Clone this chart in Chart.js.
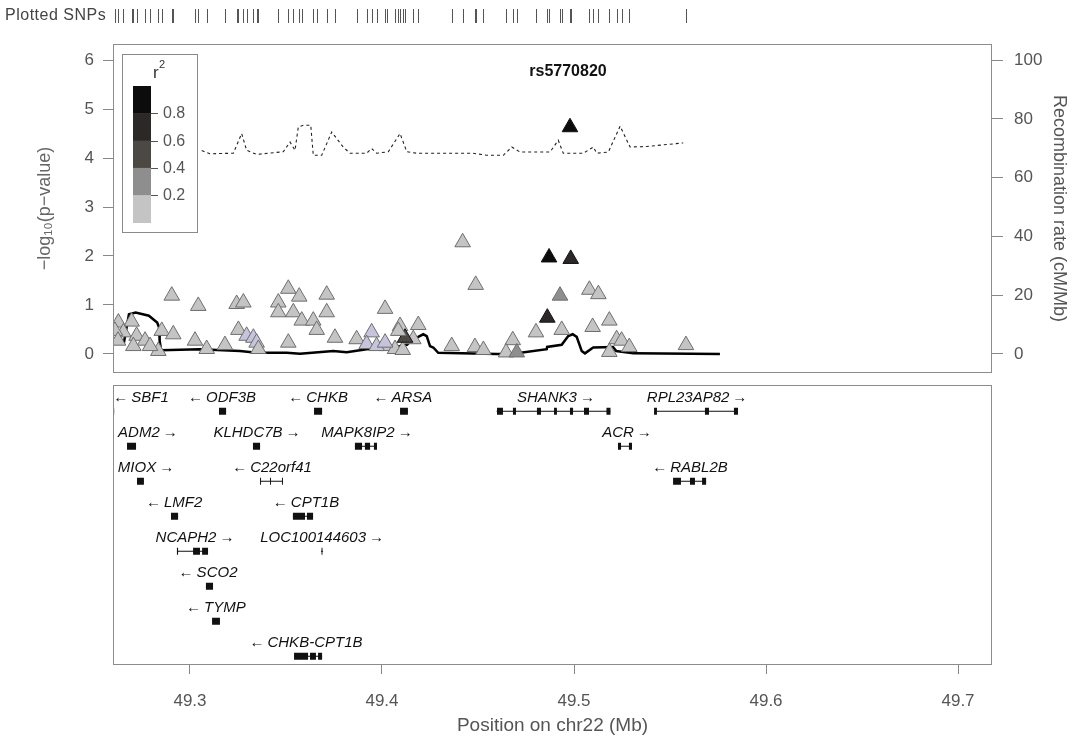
<!DOCTYPE html>
<html><head><meta charset="utf-8">
<script src="https://cdn.jsdelivr.net/npm/chart.js@4/dist/chart.umd.min.js"></script>
<style>
html,body{margin:0;padding:0;background:#fff;}
#wrap{position:relative;width:1072px;height:740px;overflow:hidden;}
#top{position:absolute;left:0;top:0;}
#bot{position:absolute;left:0;top:380px;}
</style></head><body>
<div id="wrap"><canvas id="top" width="1072" height="383"></canvas><canvas id="bot" width="1072" height="360"></canvas></div>
<script>
// ---------- data ----------
const leadSnp = 'rs5770820';
const snpPos = [49.4979,49.4420,49.4870,49.4983,49.4488,49.4927,49.5080,49.5127,49.4861,49.4802,
  49.4936,49.5097,49.5184,49.5222,49.5248,49.5288,49.5184,49.5583,49.4016,49.4094,
  49.4189,49.4024,49.4068,49.4108,49.4163,49.4120,49.4363,49.4484,49.4528,49.4681,
  49.4646,49.4702,49.2905,49.3043,49.3243,49.3278,49.3460,49.3512,49.3569,49.3712,
  49.3712,49.3460,49.3538,49.3582,49.3642,49.3660,49.3755,49.2696,49.2627,49.2853,
  49.2913,49.2653,49.2722,49.2766,49.2705,49.2835,49.3026,49.3087,49.3182,49.3252,
  49.3295,49.3330,49.3347,49.3356,49.3512,49.3868,49.3946,49.3920,49.3972,49.4016,
  49.4085,49.2609,49.2625,49.2792];
const snpLogP = [4.63,2.28,1.97,1.94,1.41,1.19,1.31,1.22,0.74,0.44,
  0.49,0.55,0.68,0.30,0.27,0.14,0.04,0.18,0.92,0.57,
  0.59,0.16,0.10,0.08,0.30,0.33,0.16,0.14,0.08,0.28,
  0.03,0.03,1.19,0.98,1.02,1.05,1.05,1.33,1.17,1.21,
  0.85,0.85,0.85,0.68,0.68,0.49,0.33,0.66,0.64,0.47,
  0.40,0.44,0.37,0.27,0.16,0.06,0.27,0.10,0.18,0.49,
  0.37,0.33,0.23,0.10,0.23,0.30,0.44,0.20,0.16,0.23,
  0.47,0.47,0.27,0.16];
const snpR2 = [1.0,0.1,0.85,0.7,0.1,0.3,0.1,0.1,0.7,0.05,
  0.1,0.1,0.1,0.1,0.1,0.1,0.1,0.05,0.1,0.1,
  0.1,0.1,0.1,0.1,0.1,0.45,0.1,0.1,0.1,0.1,
  0.1,0.3,0.1,0.1,0.1,0.1,0.1,0.1,0.1,0.1,
  0.1,0.1,0.1,0.1,0.1,0.1,0.1,0.1,0.1,0.1,
  0.1,0.1,0.1,0.1,0.1,0.1,0.1,0.1,0.1,0.1,
  null,null,null,0.1,0.1,0.1,null,null,null,null,
  0.1,0.1,0.1,0.1];

const recombPos = [49.2599,49.2656,49.2682,49.2717,49.2786,49.2829,49.2839,49.2842,49.2850,49.3052,
  49.3260,49.3347,49.3504,49.3573,49.3746,49.3816,49.3920,49.4094,49.4130,49.4161,
  49.4181,49.4215,49.4233,49.4250,49.4267,49.4293,49.4597,49.4684,49.4858,49.4860,
  49.4936,49.4970,49.4993,49.5014,49.5040,49.5057,49.5100,49.5203,49.5220,49.5309,49.5760];
const recombRate = [3.9,3.9,13.5,14.1,13.0,10.7,9.0,4.4,1.3,1.6,
  1.0,0.4,0.4,0.1,1.0,0.6,1.6,2.7,3.1,5.1,
  5.6,6.7,6.1,2.7,2.2,0.4,0.0,0.1,1.6,2.4,
  3.1,6.1,6.7,5.8,1.0,0.2,2.2,2.4,1.0,0.2,0.0];

const recomb2Pos = [49.3061,49.3104,49.3226,49.3269,49.3295,49.3347,49.3486,49.3521,49.3547,49.3564,
  49.3590,49.3629,49.3642,49.3686,49.3738,49.3798,49.3833,49.3920,49.3946,49.3972,
  49.4033,49.4094,49.4129,49.4181,49.4337,49.4474,49.4545,49.4632,49.4676,49.4719,
  49.4875,49.4918,49.4944,49.5048,49.5101,49.5118,49.5179,49.5240,49.5292,49.5379,49.5569];
const recomb2Rate = [69.2,68.1,68.3,75.0,69.3,67.9,68.8,72.1,69.3,77.2,
  77.8,77.8,67.6,67.6,75.5,70.4,68.3,68.3,69.9,68.3,
  68.8,75.0,68.8,68.3,68.3,68.3,67.6,67.6,70.4,68.7,
  68.7,72.7,68.3,68.3,70.4,68.3,68.7,77.5,70.4,70.6,71.8];

const r2Breaks = [0.2,0.4,0.6,0.8];
const r2Colors = ['#c4c4c4','#8e8e8e','#4c4844','#2c2828','#0c0c0c'];
const naColor = '#c6c4dc';
const xTicks = [49.3,49.4,49.5,49.6,49.7];
const pTicks = [0,1,2,3,4,5,6];
const recombTicks = [0,20,40,60,80,100];

const geneNames  = ['SBF1','ODF3B','CHKB','ARSA','SHANK3','RPL23AP82','ADM2','KLHDC7B','MAPK8IP2','ACR',
  'MIOX','C22orf41','RABL2B','LMF2','CPT1B','NCAPH2','LOC100144603','SCO2','TYMP','CHKB-CPT1B'];
const geneStrand = ['-','-','-','-','+','+','+','+','+','+','+','-','-','-','-','+','+','-','-','-'];
const geneRow    = [0,0,0,0,0,0,1,1,1,1,2,2,2,3,3,4,4,5,6,7];
const geneStart  = [49.2500,49.3151,49.3646,49.4094,49.4597,49.5422,49.2672,49.3328,49.3859,49.5229,
  49.2724,49.3365,49.5526,49.2901,49.3536,49.2932,49.3682,49.3083,49.3115,49.3542];
const geneEnd    = [49.2605,49.3188,49.3688,49.4135,49.5190,49.5847,49.2719,49.3365,49.3974,49.5302,
  49.2760,49.3484,49.5688,49.2938,49.3641,49.3094,49.3693,49.3120,49.3156,49.3688];
const geneLabelAt= [49.2745,49.3167,49.3667,49.4109,49.4906,49.5641,49.2781,49.3349,49.3922,49.5276,
  49.2771,49.3427,49.5604,49.2917,49.3604,49.3026,49.3688,49.3094,49.3135,49.3604];
const geneExons = [
  [[49.2597,49.2605]],
  [[49.3151,49.3188]],
  [[49.3646,49.3688]],
  [[49.4094,49.4135]],
  [[49.4599,49.4630],[49.4682,49.4698],[49.4807,49.4828],[49.4896,49.4911],[49.4979,49.4995],[49.5052,49.5078],[49.5169,49.5190]],
  [[49.5417,49.5432],[49.5682,49.5703],[49.5833,49.5854]],
  [[49.2672,49.2719]],
  [[49.3328,49.3365]],
  [[49.3859,49.3896],[49.3911,49.3938],[49.3958,49.3974]],
  [[49.5229,49.5245],[49.5286,49.5302]],
  [[49.2724,49.2760]],
  [[49.3365,49.3370],[49.3417,49.3422],[49.3479,49.3484]],
  [[49.5516,49.5557],[49.5604,49.5630],[49.5667,49.5688]],
  [[49.2901,49.2938]],
  [[49.3536,49.3599],[49.3609,49.3641]],
  [[49.2932,49.2938],[49.3016,49.3052],[49.3063,49.3094]],
  [[49.3685,49.3690]],
  [[49.3083,49.3120]],
  [[49.3115,49.3156]],
  [[49.3542,49.3615],[49.3625,49.3656],[49.3667,49.3688]]
];

// ---------- helpers ----------
const X_MIN = 49.2599, X_MAX = 49.7177;
const FONT = '"Liberation Sans", Arial, sans-serif';
function r2Color(r){ if(r===null) return naColor; let i=0; while(i<r2Breaks.length && r>=r2Breaks[i]) i++; return r2Colors[i]; }
const snpData = snpPos.map((x,i)=>({x, y:snpLogP[i]}));
const snpFill = snpR2.map(r2Color);
const snpBorder = snpR2.map(r => (r!==null && r>=0.4) ? '#111' : '#6e6e6e');
function noPad(s){ s.paddingTop = 0; s.paddingBottom = 0; }

const framePlugin = {
  id:'frame',
  afterDraw(chart){
    const {ctx, chartArea:a} = chart;
    ctx.save(); ctx.strokeStyle='#8c8c8c'; ctx.lineWidth=1;
    ctx.strokeRect(Math.round(a.left)+0.5, Math.round(a.top)+0.5, Math.round(a.right-a.left)-1, Math.round(a.bottom-a.top)-1);
    ctx.restore();
  }
};

const topPlugin = {
  id:'topExtras',
  afterDraw(chart){
    const {ctx, chartArea:a, scales} = chart;
    const xs = scales.x;
    ctx.save();
    // plotted SNPs strip
    ctx.fillStyle='#444'; ctx.font='16px '+FONT; ctx.textAlign='left'; ctx.textBaseline='middle';
    if ('letterSpacing' in ctx) ctx.letterSpacing = '0.5px';
    ctx.fillText('Plotted SNPs', 5, 16);
    if ('letterSpacing' in ctx) ctx.letterSpacing = '0px';
    ctx.strokeStyle='#555'; ctx.lineWidth=1;
    snpPos.forEach(p=>{ const px=Math.round(xs.getPixelForValue(p))+0.5; ctx.beginPath(); ctx.moveTo(px,9); ctx.lineTo(px,23); ctx.stroke(); });
    // lead snp label
    const li = snpLogP.indexOf(Math.max(...snpLogP));
    ctx.fillStyle='#111'; ctx.font='bold 16px '+FONT; ctx.textAlign='center';
    ctx.fillText(leadSnp, xs.getPixelForValue(snpPos[li]) - 2, a.top+28);
    // r2 legend
    const bx=a.left+9, by=a.top+10, bw=75, bh=178;
    ctx.strokeStyle='#8a8a8a'; ctx.strokeRect(bx+0.5,by+0.5,bw,bh);
    const cx=bx+11, cw=18, ctop=by+32, seg=27.3;
    for(let i=0;i<r2Colors.length;i++){
      ctx.fillStyle=r2Colors[r2Colors.length-1-i];
      ctx.fillRect(cx, ctop+i*seg, cw, seg+0.5);
    }
    ctx.fillStyle='#555'; ctx.font='16px '+FONT; ctx.textAlign='left';
    ctx.strokeStyle='#555';
    r2Breaks.slice().reverse().forEach((b,i)=>{
      const y=Math.round(ctop+(i+1)*seg)+0.5;
      ctx.beginPath(); ctx.moveTo(cx+cw,y); ctx.lineTo(cx+cw+7,y); ctx.stroke();
      ctx.fillText(b.toFixed(1), cx+cw+12, y);
    });
    ctx.font='17px '+FONT; ctx.fillStyle='#333';
    ctx.fillText('r', bx+31, by+19);
    ctx.font='11px '+FONT; ctx.fillText('2', bx+37, by+11);
    ctx.restore();
  }
};

Chart.defaults.font.family = FONT;
Chart.defaults.color = '#555';

new Chart(document.getElementById('top'), {
  type:'scatter',
  data:{ datasets:[
    { label:'SNPs', data:snpData, yAxisID:'y', pointStyle:'triangle', pointRadius:9,
      backgroundColor:snpFill, borderColor:snpBorder, borderWidth:1, order:0, clip:0 },
    { label:'recomb', data:recombPos.map((x,i)=>({x,y:recombRate[i]})), yAxisID:'y2', showLine:true,
      pointRadius:0, borderColor:'#000', borderWidth:2.5, order:1, tension:0 },
    { label:'recomb2', data:recomb2Pos.map((x,i)=>({x,y:recomb2Rate[i]})), yAxisID:'y2', showLine:true,
      pointRadius:0, borderColor:'#222', borderWidth:1.1, borderDash:[3,3], order:2, tension:0 }
  ]},
  options:{
    responsive:false, devicePixelRatio:1, animation:false, events:[],
    layout:{ padding:{ top:44, bottom:6, left:0, right:0 } },
    plugins:{ legend:{display:false}, tooltip:{enabled:false} },
    scales:{
      x:{ type:'linear', min:X_MIN, max:X_MAX, display:false },
      y:{ type:'linear', position:'left', min:-0.39, max:6.33,
        afterFit(s){ s.width=113; noPad(s); },
        afterBuildTicks(s){ s.ticks = pTicks.map(v=>({value:v})); },
        border:{display:false},
        grid:{ drawOnChartArea:false, drawTicks:true, tickLength:10, color:'#888' },
        ticks:{ font:{size:17}, color:'#555', padding:9 },
        title:{ display:true, text:'\u2212log\u2081\u2080(p\u2212value)', font:{size:18}, color:'#666', padding:{top:34,bottom:0} }
      },
      y2:{ type:'linear', position:'right', min:-6.48, max:105.46,
        afterFit(s){ s.width=80; noPad(s); },
        afterBuildTicks(s){ s.ticks = recombTicks.map(v=>({value:v})); },
        border:{display:false},
        grid:{ drawOnChartArea:false, drawTicks:true, tickLength:11, color:'#888' },
        ticks:{ font:{size:17}, color:'#555', padding:11 },
        title:{ display:true, text:'Recombination rate (cM/Mb)', font:{size:18}, color:'#555', padding:{top:2,bottom:0} }
      }
    }
  },
  plugins:[framePlugin, topPlugin]
});

// ---------- gene panel ----------
const bodyData=[], exonData=[];
geneNames.forEach((g,i)=>{
  const r=geneRow[i];
  bodyData.push({x:Math.max(geneStart[i],X_MIN),y:r},{x:geneEnd[i],y:r},{x:geneEnd[i],y:null});
  geneExons[i].forEach(e=>{ exonData.push({x:Math.max(e[0],X_MIN),y:r},{x:e[1],y:r},{x:e[1],y:null}); });
});

const genePlugin = {
  id:'geneLabels',
  afterDatasetsDraw(chart){
    const {ctx, scales} = chart;
    ctx.save();
    ctx.fillStyle='#111'; ctx.font='italic 15px '+FONT; ctx.textAlign='center'; ctx.textBaseline='middle';
    geneNames.forEach((g,i)=>{
      const txt = geneStrand[i]==='-' ? '\u2190\u2009' + g : g + '\u2009\u2192';
      ctx.fillText(txt, scales.x.getPixelForValue(geneLabelAt[i]), scales.y.getPixelForValue(geneRow[i]) - 13);
    });
    ctx.restore();
  }
};

new Chart(document.getElementById('bot'), {
  type:'scatter',
  data:{ datasets:[
    { label:'genes', data:bodyData, showLine:true, spanGaps:false, pointRadius:0, borderColor:'#111', borderWidth:1.2 },
    { label:'exons', data:exonData, showLine:true, spanGaps:false, pointRadius:0, borderColor:'#111', borderWidth:7, borderCapStyle:'butt' }
  ]},
  options:{
    responsive:false, devicePixelRatio:1, animation:false, events:[],
    layout:{ padding:{ top:5, bottom:0, left:113, right:80 } },
    plugins:{ legend:{display:false}, tooltip:{enabled:false} },
    scales:{
      y:{ type:'linear', reverse:true, min:-0.75, max:7.25, display:false },
      x:{ type:'linear', min:X_MIN, max:X_MAX, position:'bottom',
        afterFit(s){ s.height=75; },
        afterBuildTicks(s){ s.ticks = xTicks.map(v=>({value:v})); },
        border:{display:false},
        grid:{ drawOnChartArea:false, drawTicks:true, tickLength:9, color:'#888' },
        ticks:{ font:{size:17}, color:'#555', padding:17, maxRotation:0, callback:v=>v.toFixed(1) },
        title:{ display:true, text:'Position on chr22 (Mb)', font:{size:19}, color:'#555', padding:{top:0,bottom:3} }
      }
    }
  },
  plugins:[framePlugin, genePlugin]
});
</script>
</body></html>
